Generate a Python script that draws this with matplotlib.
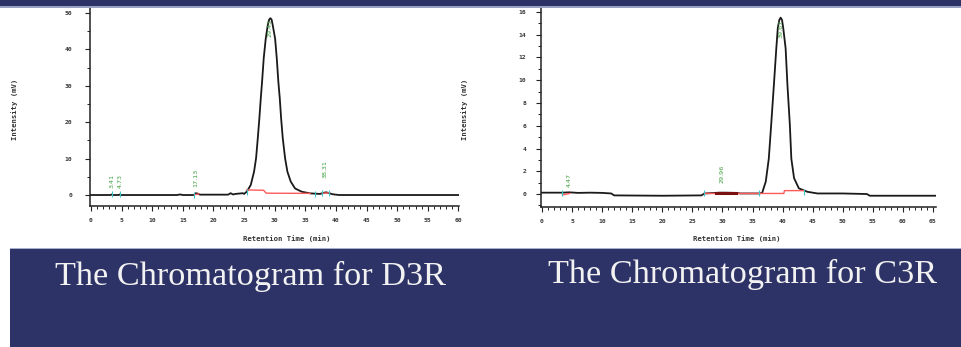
import matplotlib
matplotlib.use("Agg")
import matplotlib.pyplot as plt
from matplotlib.patches import Rectangle
from matplotlib.ticker import MultipleLocator

# ── Data ────────────────────────────────────────────────────────────────
# D3R trace (retention time in min, intensity in mV)
d3r_time = [0.0, 3.2, 3.4, 3.6, 4.5, 4.7, 4.9, 14.0, 14.6, 15.0, 16.8, 17.1, 17.4,
            17.8, 22.4, 22.8, 23.2, 23.6, 24.2, 24.8, 25.0, 25.44, 26.09, 26.63,
            26.96, 27.24, 27.5, 27.73, 27.94, 28.21, 28.54, 28.87, 29.1, 29.3,
            29.5, 29.68, 30.07, 30.34, 30.6, 30.83, 31.05, 31.32, 31.7, 32.08,
            32.62, 33.33, 34.42, 35.8, 37.4, 38.0, 38.4, 38.9, 39.5, 40.5, 60.0]
d3r_mv = [0.0, 0.0, 0.15, 0.0, 0.0, 0.15, 0.0, 0.0, 0.15, 0.0, 0.0, 0.5, 0.4,
          0.1, 0.1, 0.5, 0.15, 0.3, 0.4, 0.5, 0.3, 0.9, 2.75, 6.4,
          10.1, 15.6, 21.1, 26.6, 31.1, 37.6, 43.0, 46.7, 48.2, 48.6,
          48.2, 46.7, 43.0, 37.6, 31.1, 26.6, 21.1, 15.6, 10.1, 6.4,
          3.7, 1.8, 0.9, 0.45, 0.3, 0.6, 0.75, 0.5, 0.2, 0.0, 0.0]
d3r_red_segments = [
    ([16.9, 17.6], [0.1, 0.3]),
    ([25.4, 28.2, 28.6, 35.8], [1.4, 1.3, 0.5, 0.45]),
    ([37.8, 38.9], [0.5, 0.6]),
]
d3r_marks = [3.4, 4.7, 16.9, 25.4, 36.6, 37.8, 38.9]
d3r_peak_labels = ["3.41", "4.73", "17.13", "29.43", "38.31"]
d3r_label_time = [3.4, 4.7, 17.1, 29.3, 38.3]
d3r_label_mv = [1.9, 1.9, 2.2, 48.4, 4.7]

# C3R trace
c3r_time = [0.0, 3.3, 4.5, 6.0, 8.0, 10.0, 11.5, 12.0, 20.0, 26.5, 27.0, 28.9,
            29.5, 30.5, 32.2, 33.0, 36.1, 36.6, 37.2, 37.7, 38.1, 38.55, 38.95,
            39.2, 39.45, 39.67, 39.9, 40.1, 40.5, 40.8, 41.2, 41.45, 41.9, 42.7,
            44.1, 45.8, 50.0, 54.0, 54.5, 65.5]
c3r_mv = [0.12, 0.12, 0.15, 0.1, 0.12, 0.1, 0.05, -0.12, -0.15, -0.12, 0.05, 0.1,
          0.12, 0.12, 0.1, 0.05, 0.05, 0.1, 1.1, 3.1, 6.1, 9.6, 12.8,
          14.6, 15.3, 15.5, 15.3, 14.6, 12.8, 9.6, 6.1, 3.1, 1.4, 0.5,
          0.2, 0.05, 0.05, 0.0, -0.15, -0.15]
c3r_red_segments = [
    ([3.4, 4.6], [-0.08, 0.05]),
    ([27.0, 40.2, 40.3, 43.6], [0.05, 0.05, 0.3, 0.3]),
]
c3r_dark_segment = ([28.9, 32.2], [0.08, 0.08])
c3r_marks = [3.3, 27.0, 36.1, 43.6]
c3r_peak_labels = ["4.47", "29.96", "39.67"]
c3r_label_time = [4.55, 29.9, 39.67]
c3r_label_mv = [0.6, 1.0, 15.3]

titles = ["The Chromatogram for D3R", "The Chromatogram for C3R"]

# ── Style ────────────────────────────────────────────────────────────────
NAVY = "#2e3367"
TICK_COLOR = "#3a3a3a"
GREEN = "#3f9f3f"
CYAN = "#3cc8c8"
RED = "#ff5a5a"
W, H = 962, 347

fig = plt.figure(figsize=(W / 100, H / 100), dpi=100, facecolor="white")


def px_box(x0, y0, x1, y1):
    # pixel box (top-left origin) -> figure fraction rect
    return [x0 / W, 1 - y1 / H, (x1 - x0) / W, (y1 - y0) / H]


# navy bands of the slide
fig.patches.append(Rectangle((0, 1 - 6.5 / H), 1, 6.5 / H, transform=fig.transFigure,
                             facecolor=NAVY, edgecolor="none", zorder=0))
fig.patches.append(Rectangle((0, 1 - 7.5 / H), 1, 1.0 / H, transform=fig.transFigure,
                             facecolor="#9aa0c4", edgecolor="none", zorder=0))
fig.patches.append(Rectangle((10 / W, 0), 1 - 10 / W, 98 / H, transform=fig.transFigure,
                             facecolor=NAVY, edgecolor="none", zorder=0))
fig.patches.append(Rectangle((10 / W, 98 / H), 1 - 10 / W, 1.2 / H, transform=fig.transFigure,
                             facecolor="#a8aecb", edgecolor="none", zorder=0))


def draw_chrom(rect, time, mv, xlim, ylim, xmax_label, ymaj, ymin,
               red_segments, marks, labels, lab_t, lab_mv, ypad):
    ax = fig.add_axes(rect)
    ax.patch.set_alpha(0)
    ax.plot(time, mv, color="#1a1a1a", lw=1.3, zorder=3)
    for seg_t, seg_v in red_segments:
        ax.plot(seg_t, seg_v, color=RED, lw=1.0, zorder=4)
    base = [mv[min(range(len(time)), key=lambda i: abs(time[i] - m))] for m in marks]
    ax.plot(marks, base, ls="none", marker="|", ms=4, mew=0.8, color=CYAN, zorder=5)
    for txt, t, v in zip(labels, lab_t, lab_mv):
        va = "top" if v > ylim[1] * 0.5 else "bottom"
        ax.text(t, v, txt, rotation=90, ha="center", va=va, fontsize=4.6,
                color=GREEN, family="DejaVu Sans", zorder=6)
    ax.set_xlim(*xlim)
    ax.set_ylim(*ylim)
    for s in ["top", "right"]:
        ax.spines[s].set_visible(False)
    for s in ["left", "bottom"]:
        ax.spines[s].set_linewidth(1.1)
        ax.spines[s].set_color("#222222")
    ax.xaxis.set_major_locator(MultipleLocator(5))
    ax.xaxis.set_minor_locator(MultipleLocator(1))
    ax.yaxis.set_major_locator(MultipleLocator(ymaj))
    ax.yaxis.set_minor_locator(MultipleLocator(ymin))
    ax.set_xticks(range(0, xmax_label + 1, 5))
    ax.set_yticks([v for v in range(0, int(ylim[1]) + 1, ymaj)])
    ax.tick_params(axis="x", which="major", length=3.5, width=0.8, pad=5,
                   labelsize=4.6, labelcolor=TICK_COLOR, color="#222222")
    ax.tick_params(axis="x", which="minor", length=2.5, width=0.7, color="#222222")
    ax.tick_params(axis="y", which="major", length=3.5, width=0.8, pad=ypad,
                   labelsize=4.6, labelcolor=TICK_COLOR, color="#222222")
    ax.tick_params(axis="y", which="minor", length=2.0, width=0.7, color="#222222")
    for lab in ax.get_xticklabels() + ax.get_yticklabels():
        lab.set_family("DejaVu Sans Mono")
        lab.set_fontweight("bold")
    return ax


# D3R panel
draw_chrom(px_box(90, 8, 459, 206), d3r_time, d3r_mv, (-0.16, 60.1), (-3.02, 51.4),
           60, 10, 5, d3r_red_segments, d3r_marks, d3r_peak_labels,
           d3r_label_time, d3r_label_mv, ypad=9)

# C3R panel
ax_c = draw_chrom(px_box(541, 8, 936, 207), c3r_time, c3r_mv, (-0.17, 65.5), (-1.14, 16.35),
                  65, 2, 1, c3r_red_segments, c3r_marks, c3r_peak_labels,
                  c3r_label_time, c3r_label_mv, ypad=7)
ax_c.plot(*c3r_dark_segment, color="#7a1010", lw=2.2, zorder=4)

# axis titles of the instrument plots
axis_font = dict(family="DejaVu Sans Mono", fontsize=5.2, color="#333333", fontweight="bold")
for xc in [15, 465]:
    fig.text(xc / W, 1 - 109 / H, "Intensity (mV)", rotation=90, ha="center", va="center",
             **axis_font)
for xc in [287, 737]:
    fig.text(xc / W, 1 - 239 / H, "Retention Time (min)", ha="center", va="center",
             **axis_font)

# slide captions
fig.text(55 / W, 1 - 285 / H, titles[0], ha="left", va="baseline", fontsize=24.7,
         family="Liberation Serif", color="#f2f2f2")
fig.text(548 / W, 1 - 283.5 / H, titles[1], ha="left", va="baseline", fontsize=24.7,
         family="Liberation Serif", color="#f2f2f2")

fig.savefig("out.png", dpi=100, facecolor="white")
